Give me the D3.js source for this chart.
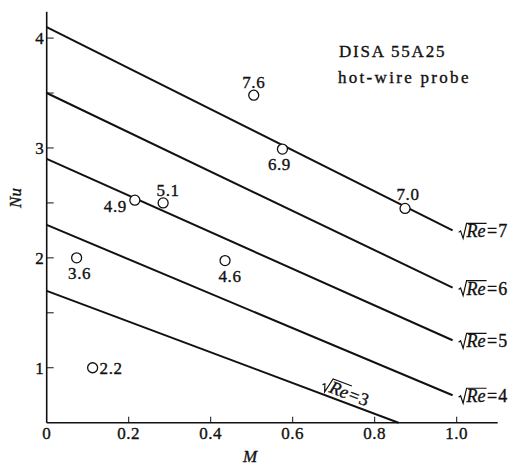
<!DOCTYPE html>
<html>
<head>
<meta charset="utf-8">
<script src="https://cdn.jsdelivr.net/npm/d3@7"></script>
<style>
  html, body { margin: 0; padding: 0; background: #fff; }
  svg { display: block; }
</style>
</head>
<body>
<svg id="chart" width="515" height="466"></svg>
<script>
// Nusselt number vs Mach number for a DISA 55A25 hot-wire probe
const reValues   = [3, 4, 5, 6, 7];          // sqrt(Re) of each calibration line
const lineStartM  = [0, 0, 0, 0, 0];
const lineStartNu = [1.7, 2.3, 2.9, 3.5, 4.1];
const lineEndM    = [0.858, 0.99, 0.99, 0.99, 0.99];
const lineEndNu   = [0.5, 0.75, 1.25, 1.73, 2.25];

const pointM     = [0.505, 0.575, 0.874, 0.215, 0.284, 0.073, 0.435, 0.112];
const pointNu    = [3.48, 2.99, 2.45, 2.525, 2.50, 2.0, 1.975, 1.0];
const pointLabel = ["7.6", "6.9", "7.0", "4.9", "5.1", "3.6", "4.6", "2.2"];

const xTicks = [0, 0.2, 0.4, 0.6, 0.8, 1.0];
const xTickLabels = ["0", "0.2", "0.4", "0.6", "0.8", "1.0"];
const yTicks = [1, 2, 3, 4];
const yMinorTicks = [1.5, 2.5, 3.5];

const FONT = '"Liberation Serif"';
const INK = "#111";

const svg = d3.select("#chart");
const x = d3.scaleLinear().domain([0, 1.1]).range([46.7, 497.7]);
const y = d3.scaleLinear().domain([0.5, 4.24]).range([422.7, 11.7]);

// printed-look text: serif face, slightly heavy strokes
function txt(sel) {
  return sel.style("font-family", FONT).attr("fill", INK)
    .attr("stroke", INK).attr("stroke-width", 0.35);
}

// axes frame
const axisW = 1.6;
svg.append("line").attr("x1", x(0)).attr("x2", x(1.1)).attr("y1", y(0.5)).attr("y2", y(0.5))
  .attr("stroke", INK).attr("stroke-width", axisW);
svg.append("line").attr("x1", x(0)).attr("x2", x(0)).attr("y1", y(0.5)).attr("y2", y(4.24))
  .attr("stroke", INK).attr("stroke-width", axisW);

// x ticks (inward)
svg.selectAll(".xt").data(xTicks.filter(d => d > 0)).join("line")
  .attr("x1", d => x(d)).attr("x2", d => x(d))
  .attr("y1", y(0.5)).attr("y2", y(0.5) - 6)
  .attr("stroke", INK).attr("stroke-width", 1);
txt(svg.selectAll(".xl").data(xTicks).join("text"))
  .attr("x", d => x(d)).attr("y", y(0.5) + 16)
  .attr("text-anchor", "middle").attr("font-size", 17).attr("letter-spacing", 0.5)
  .text((d, i) => xTickLabels[i]);

// y ticks (inward)
svg.selectAll(".yt").data(yTicks.concat(yMinorTicks)).join("line")
  .attr("x1", x(0)).attr("x2", x(0) + 7)
  .attr("y1", d => y(d)).attr("y2", d => y(d))
  .attr("stroke", INK).attr("stroke-width", 1);
txt(svg.selectAll(".yl").data(yTicks).join("text"))
  .attr("x", x(0) - 3).attr("y", d => y(d)).attr("dy", "0.35em")
  .attr("text-anchor", "end").attr("font-size", 17)
  .text(d => d);

// axis titles
txt(svg.append("text")).attr("x", 250).attr("y", 462)
  .attr("text-anchor", "middle").attr("font-size", 17).attr("font-style", "italic").text("M");
txt(svg.append("text")).attr("transform", "translate(21,198) rotate(-90)")
  .attr("text-anchor", "middle").attr("font-size", 17).attr("font-style", "italic").text("Nu");

// calibration lines
svg.selectAll(".reline").data(reValues).join("line")
  .attr("x1", (d, i) => x(lineStartM[i])).attr("y1", (d, i) => y(lineStartNu[i]))
  .attr("x2", (d, i) => x(lineEndM[i])).attr("y2", (d, i) => y(lineEndNu[i]))
  .attr("stroke", INK).attr("stroke-width", 2);

// label "√Re = n"
function reLabel(g, n) {
  const fs = 18;
  const rad = g.append("path").attr("fill", "none").attr("stroke", INK).attr("stroke-width", 1.2);
  const re = txt(g.append("text")).attr("x", 8).attr("y", 0).attr("font-size", fs)
    .attr("font-style", "italic").text("Re");
  const w = re.node().getComputedTextLength();
  rad.attr("d", `M0,-5 L2,-6.5 L4.5,1 L8,-14 L${8 + w + 1},-14`);
  txt(g.append("text")).attr("x", 8 + w + 1.5).attr("y", 0).attr("font-size", fs)
    .attr("letter-spacing", 1).text("=" + n);
}

reValues.forEach((v, i) => {
  if (v === 3) {
    // along the line, rotated to its slope
    const p0 = [x(lineStartM[i]), y(lineStartNu[i])];
    const p1 = [x(lineEndM[i]), y(lineEndNu[i])];
    const ang = Math.atan2(p1[1] - p0[1], p1[0] - p0[0]) * 180 / Math.PI;
    const t = 0.665 / lineEndM[i];
    const px = p0[0] + (p1[0] - p0[0]) * t, py = p0[1] + (p1[1] - p0[1]) * t;
    const g = svg.append("g").attr("transform", `translate(${px},${py}) rotate(${ang}) translate(0,-4)`);
    reLabel(g, v);
  } else {
    const g = svg.append("g").attr("transform", `translate(${x(lineEndM[i]) + 6},${y(lineEndNu[i]) + 7})`);
    reLabel(g, v);
  }
});

// measured points
const place = [
  { dx: 0, dy: -7, anchor: "middle" },
  { dx: -3, dy: 21, anchor: "middle" },
  { dx: 3, dy: -8, anchor: "middle" },
  { dx: -8, dy: 12, anchor: "end" },
  { dx: 5, dy: -7, anchor: "middle" },
  { dx: 3, dy: 21, anchor: "middle" },
  { dx: 5, dy: 21, anchor: "middle" },
  { dx: 7, dy: 6.5, anchor: "start" }
];
svg.selectAll(".pt").data(pointM).join("circle")
  .attr("cx", d => x(d)).attr("cy", (d, i) => y(pointNu[i])).attr("r", 5)
  .attr("fill", "#fff").attr("stroke", INK).attr("stroke-width", 1.3);
txt(svg.selectAll(".ptl").data(pointM).join("text"))
  .attr("x", (d, i) => x(d) + place[i].dx).attr("y", (d, i) => y(pointNu[i]) + place[i].dy)
  .attr("text-anchor", (d, i) => place[i].anchor).attr("font-size", 17).attr("letter-spacing", 0.6)
  .text((d, i) => pointLabel[i]);

// probe annotation
txt(svg.append("text")).attr("x", 339).attr("y", 57).attr("font-size", 17)
  .attr("letter-spacing", 1.8).text("DISA 55A25");
txt(svg.append("text")).attr("x", 338).attr("y", 83).attr("font-size", 17)
  .attr("letter-spacing", 2.3).text("hot-wire probe");
</script>
</body>
</html>
